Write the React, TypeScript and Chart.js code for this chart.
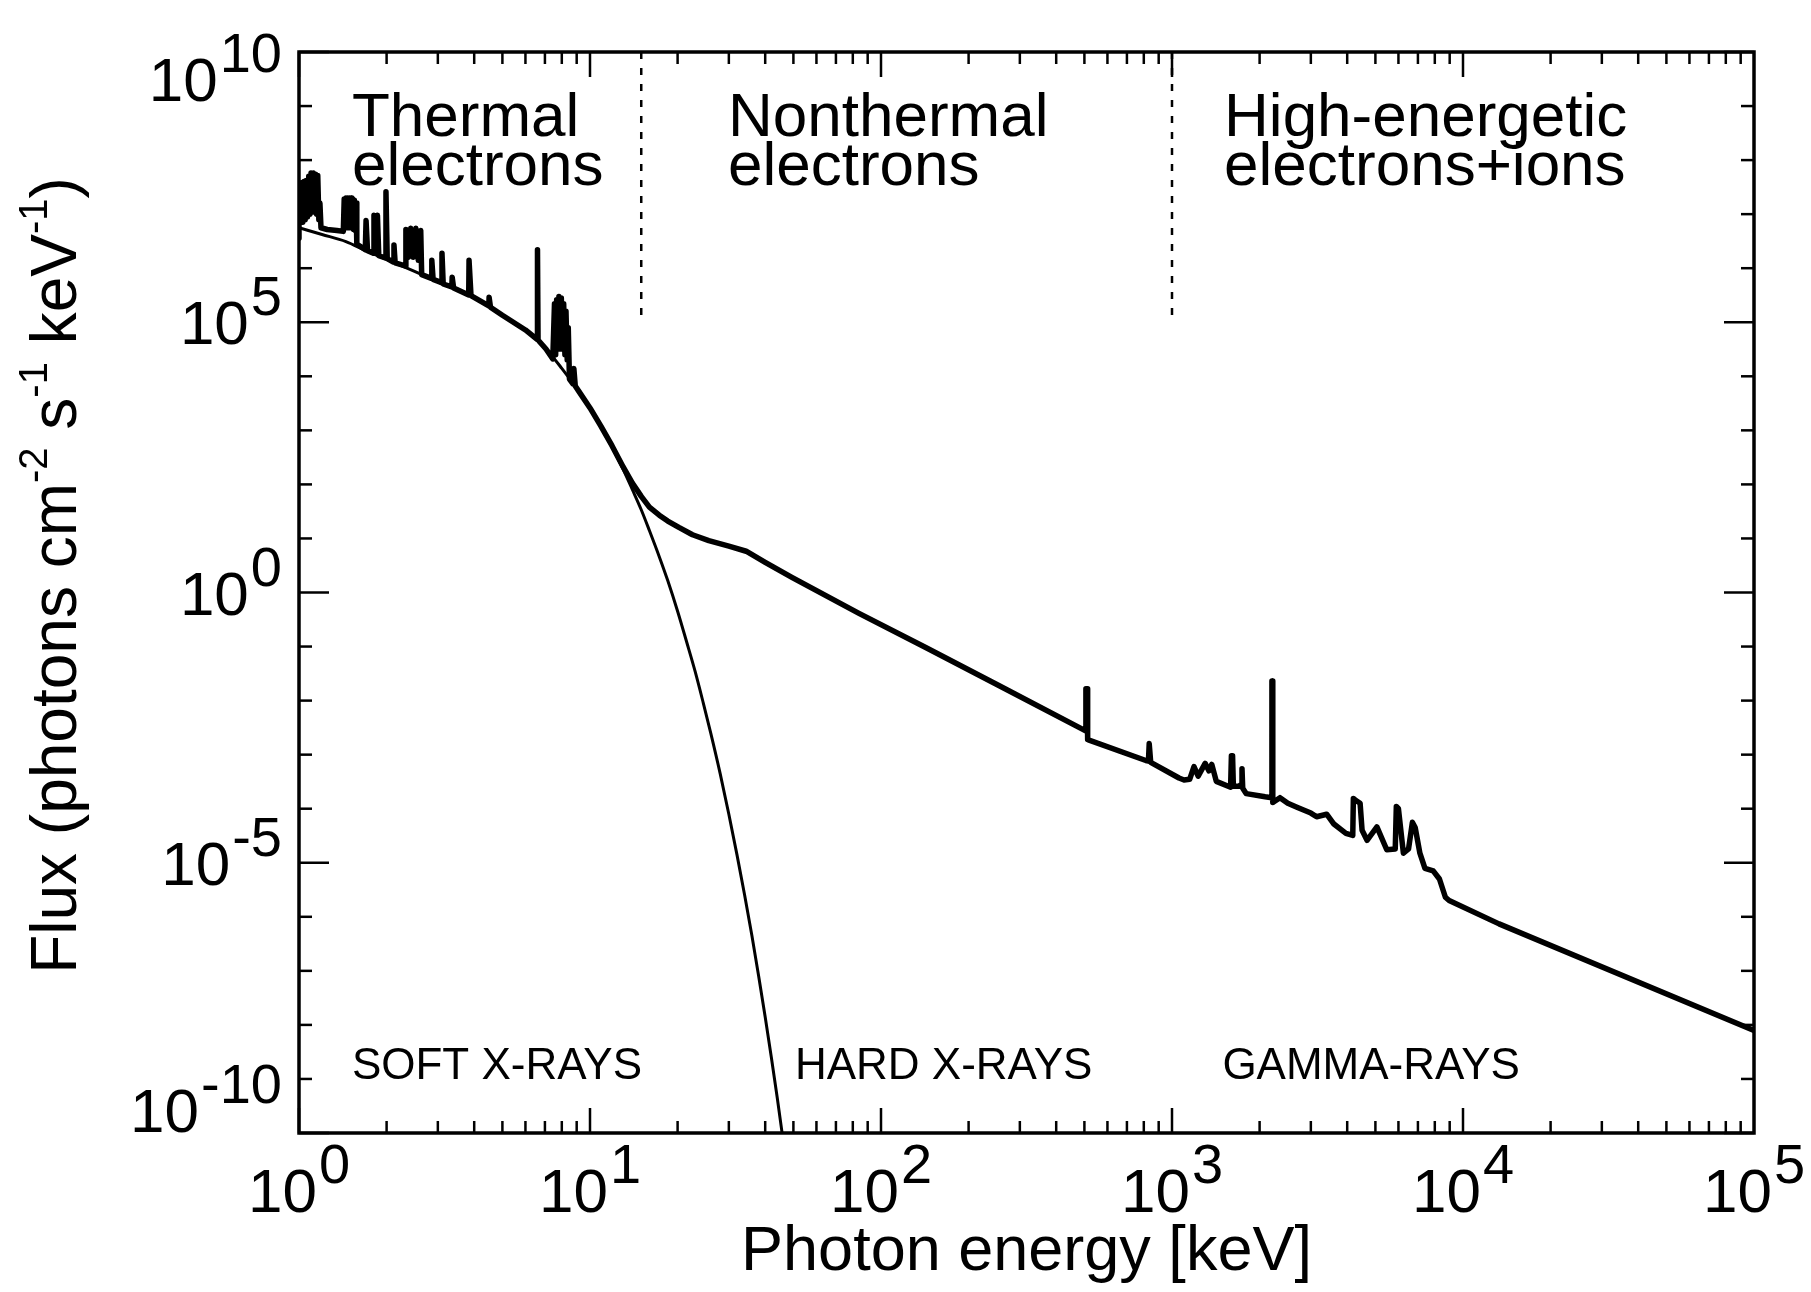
import React, { useEffect, useRef } from "react";
import { Chart, registerables } from "chart.js";

Chart.register(...registerables);

// ---- data ----
// Total observed spectrum (thick line), photon energy in keV
const totalEnergy = [
  1.0, 1.0, 1.01, 1.02, 1.03, 1.04, 1.05, 1.06, 1.07, 1.08, 1.09, 1.1, 1.11, 1.12, 1.13, 1.14, 1.15, 1.16, 1.17, 1.18, 1.19,
  1.25, 1.35, 1.42, 1.43, 1.44, 1.45, 1.46, 1.47, 1.48, 1.49, 1.5, 1.51, 1.52, 1.53, 1.54, 1.55, 1.56, 1.57, 1.58,
  1.69, 1.7, 1.72, 1.8, 1.81, 1.84, 1.86, 1.88, 1.98, 1.99, 2.01, 2.11, 2.12, 2.14, 2.32, 2.33, 2.38, 2.42, 2.47, 2.52, 2.57, 2.62, 2.64,
  2.85, 2.86, 2.89, 3.09, 3.1, 3.13, 3.35, 3.36, 3.4, 3.83, 3.84, 3.9, 4.49, 4.5, 4.55, 5.0, 6.0, 6.58, 6.6, 6.63, 7.06,
  7.45, 7.55, 7.62, 7.68, 7.75, 7.82, 7.9, 7.97, 8.05, 8.12, 8.2, 8.27, 8.35, 8.42, 8.5, 8.75, 8.8, 8.9, 9.17,
  10.0, 10.9, 11.9, 13.0, 14.0, 15.0, 16.0, 17.3, 18.5, 20.2, 22.5, 25.6, 30.0, 34.4, 40.0, 49.4, 84, 143, 254, 490,
  505, 506, 511, 513, 813, 830, 835, 845, 1057,
  1100, 1150, 1190, 1230, 1300, 1340, 1370, 1420, 1590, 1600, 1615, 1625, 1700, 1730, 1740, 1750, 1800, 2090, 2200, 2205,
  2215, 2220, 2350, 2500, 2700, 3000, 3140, 3400, 3600, 3960,
  4180, 4200, 4300, 4430, 4500, 4680, 5060, 5470, 5850, 5900, 6000, 6240, 6500, 6700, 6850, 7110, 7400, 7900, 8300, 8700,
  8960, 13300, 100000,
];
// photons cm^-2 s^-1 keV^-1
const totalFlux = [
  3.6e6, 3.5e7, 7.1e6, 3.8e7, 7.1e6, 4.0e7, 7.9e6, 4.2e7, 8.9e6, 5.0e7, 1.0e7, 5.8e7, 1.1e7, 5.8e7, 1.1e7, 5.5e7, 1.0e7, 5.2e7, 7.9e6, 1.6e7, 5.6e6,
  5.2e6, 5.0e6, 4.8e6, 1.9e7, 5.6e6, 2.0e7, 5.6e6, 2.0e7, 5.6e6, 2.0e7, 5.6e6, 2.0e7, 5.6e6, 1.9e7, 5.2e6, 1.8e7, 5.0e6, 1.6e7, 2.8e6,
  2.2e6, 7.6e6, 2.1e6, 1.9e6, 9.5e6, 3.2e6, 9.5e6, 1.7e6, 1.55e6, 2.6e7, 1.5e6, 1.3e6, 2.7e6, 1.26e6, 1.1e6, 5.2e6, 1.6e6, 5.5e6, 1.6e6, 5.5e6, 1.4e6, 5.0e6, 7.6e5,
  6.5e5, 1.4e6, 6.2e5, 5.4e5, 1.9e6, 5.1e5, 4.5e5, 6.8e5, 4.3e5, 3.2e5, 1.4e6, 3.1e5, 2.0e5, 2.9e5, 1.9e5, 1.35e5, 7.2e4, 4.8e4, 2.2e6, 4.7e4, 3.2e4,
  2.1e4, 2.2e5, 2.5e4, 2.6e5, 3.2e4, 3.0e5, 3.2e4, 2.8e5, 3.2e4, 2.2e5, 2.5e4, 1.6e5, 2.0e4, 7.9e4, 8.9e3, 7.2e3, 1.4e4, 6.6e3, 5.2e3,
  2.6e3, 1.2e3, 5.2e2, 2.1e2, 1.05e2, 60, 38, 27, 21, 16, 11.7, 9.1, 7.2, 5.8, 3.6, 1.9, 0.41, 0.095, 0.019, 3.0e-3,
  2.75e-3, 1.66e-2, 1.66e-2, 1.9e-3, 7.8e-4, 7.6e-4, 1.6e-3, 7.2e-4, 3.7e-4,
  3.4e-4, 3.5e-4, 6.0e-4, 4.0e-4, 6.9e-4, 5.0e-4, 6.6e-4, 3.2e-4, 2.5e-4, 9.5e-4, 9.5e-4, 2.6e-4, 2.6e-4, 2.8e-4, 5.5e-4, 2.4e-4, 1.9e-4, 1.66e-4, 1.6e-4, 2.3e-2,
  2.3e-2, 1.3e-4, 1.6e-4, 1.26e-4, 1.05e-4, 8.3e-5, 7.1e-5, 7.9e-5, 5.2e-5, 3.5e-5,
  3.2e-5, 1.55e-4, 1.4e-4, 1.26e-4, 4.0e-5, 2.6e-5, 4.6e-5, 1.74e-5, 1.8e-5, 1.1e-4, 1.0e-4, 1.5e-5, 1.8e-5, 5.6e-5, 4.5e-5, 1.5e-5, 7.9e-6, 7.1e-6, 5.0e-6, 2.3e-6,
  2.0e-6, 7.4e-7, 7.9e-9,
];
// Thermal continuum (thin line)
const thermalEnergy = [
  1.0, 1.2, 1.45, 1.7, 2.0, 2.45, 3.0, 4.16, 5.0, 6.0, 7.06, 8.0, 9.17, 10.0, 10.9, 11.9, 13, 14, 15, 16,
  17.3, 18.5, 20, 21.5, 23, 24.5, 26, 28, 30, 32, 34, 36, 38, 40, 42, 44, 46, 47,
];
const thermalFlux = [
  5.6e6, 4.2e6, 3.1e6, 2.1e6, 1.45e6, 9.1e5, 5.6e5, 2.6e5, 1.35e5, 7.2e4, 3.2e4, 1.4e4, 5.2e3, 2.6e3, 1.15e3, 4.9e2, 1.9e2, 79, 34, 14,
  4.6, 1.66, 0.45, 0.12, 0.034, 9.1e-3, 2.5e-3, 4.5e-4, 7.9e-5, 1.4e-5, 2.5e-6, 4.5e-7, 7.9e-8, 1.4e-8, 2.5e-9, 4.5e-10, 7.9e-11, 3.2e-11,
];
// Dotted region boundaries (keV) and their flux extent
const boundaryEnergies = [15, 1000];
const boundaryFluxTop = 1e10;
const boundaryFluxBottom = 1e5;

// Axes
const xTickValues = [1, 10, 100, 1000, 10000, 100000];
const xTickExponents = ["0", "1", "2", "3", "4", "5"];
const yTickValues = [1e10, 1e5, 1, 1e-5, 1e-10];
const yTickExponents = ["10", "5", "0", "-5", "-10"];
const xTitle = "Photon energy [keV]";
const yTitleParts: [string, boolean][] = [
  ["Flux (photons cm", false],
  ["-2", true],
  [" s", false],
  ["-1", true],
  [" keV", false],
  ["-1", true],
  [")", false],
];

// Annotations
const regionLabels = [
  ["Thermal", "electrons"],
  ["Nonthermal", "electrons"],
  ["High-energetic", "electrons+ions"],
];
const regionLabelEnergy = [1.52, 29.8, 1510];
const bandLabels = ["SOFT X-RAYS", "HARD X-RAYS", "GAMMA-RAYS"];
const bandLabelEnergy = [1.52, 50.6, 1490];

const FONT = '"Liberation Sans", Arial, Helvetica, sans-serif';
const f = (px: number) => `${px}px ${FONT}`;

function drawPower(
  ctx: CanvasRenderingContext2D,
  exp: string,
  x: number,
  y: number,
  align: "center" | "right",
  mainPx: number,
  supPx: number,
  raise: number
) {
  ctx.font = f(mainPx);
  const w1 = ctx.measureText("10").width;
  ctx.font = f(supPx);
  const w2 = ctx.measureText(exp).width;
  const gap = 2;
  const total = w1 + gap + w2;
  const left = align === "center" ? x - total / 2 : x - total;
  ctx.textAlign = "left";
  ctx.textBaseline = "alphabetic";
  ctx.font = f(mainPx);
  ctx.fillText("10", left, y);
  ctx.font = f(supPx);
  ctx.fillText(exp, left + w1 + gap, y - raise);
}

const decorPlugin = {
  id: "decor",
  afterDatasetsDraw(chart: any) {
    const { ctx, chartArea: a, scales } = chart;
    const xs = scales.x;
    const ys = scales.y;
    ctx.save();
    ctx.strokeStyle = "#000";
    ctx.fillStyle = "#000";
    ctx.lineCap = "butt";

    const seg = (x1: number, y1: number, x2: number, y2: number) => {
      ctx.beginPath();
      ctx.moveTo(x1, y1);
      ctx.lineTo(x2, y2);
      ctx.stroke();
    };

    // frame
    ctx.lineWidth = 3.5;
    ctx.strokeRect(a.left, a.top, a.right - a.left, a.bottom - a.top);

    // x ticks (bottom and top, inward)
    ctx.lineWidth = 2.5;
    for (let d = 0; d < 5; d++) {
      for (let m = 1; m < 10; m++) {
        const px = xs.getPixelForValue(m * Math.pow(10, d));
        const len = m === 1 ? 25 : 12;
        seg(px, a.bottom, px, a.bottom - len);
        seg(px, a.top, px, a.top + len);
      }
    }
    // y ticks (left and right, inward)
    for (let e = -10; e <= 10; e++) {
      const py = ys.getPixelForValue(Math.pow(10, e));
      const len = e % 5 === 0 ? 30 : 13;
      seg(a.left, py, a.left + len, py);
      seg(a.right, py, a.right - len, py);
    }

    // x tick labels
    xTickValues.forEach((v, i) => {
      const px = xs.getPixelForValue(v);
      drawPower(ctx, xTickExponents[i], px, a.bottom + 79, "center", 62, 56, 29);
    });
    // y tick labels
    yTickValues.forEach((v, i) => {
      const py = ys.getPixelForValue(v);
      const cy = Math.min(Math.max(py, a.top + 27), a.bottom - 23);
      drawPower(ctx, yTickExponents[i], a.left - 17, cy + 22, "right", 62, 56, 29);
    });

    // x title
    ctx.font = f(63);
    ctx.textAlign = "center";
    ctx.textBaseline = "alphabetic";
    ctx.fillText(xTitle, (a.left + a.right) / 2, a.bottom + 137);

    // y title (rotated)
    ctx.save();
    ctx.translate(76, (a.top + a.bottom) / 2 - 17);
    ctx.rotate(-Math.PI / 2);
    let total = 0;
    const widths = yTitleParts.map(([t, sup]) => {
      ctx.font = f(sup ? 40 : 64);
      const w = ctx.measureText(t).width;
      total += w;
      return w;
    });
    let cx = -total / 2;
    ctx.textAlign = "left";
    yTitleParts.forEach(([t, sup], i) => {
      ctx.font = f(sup ? 40 : 64);
      ctx.fillText(t, cx, sup ? -29 : 0);
      cx += widths[i];
    });
    ctx.restore();

    // region labels
    ctx.font = f(62);
    ctx.textAlign = "left";
    regionLabels.forEach((lines, i) => {
      const px = xs.getPixelForValue(regionLabelEnergy[i]);
      ctx.fillText(lines[0], px, a.top + 84);
      ctx.fillText(lines[1], px, a.top + 133);
    });
    // band labels
    ctx.font = f(44);
    bandLabels.forEach((t, i) => {
      const px = xs.getPixelForValue(bandLabelEnergy[i]);
      ctx.fillText(t, px, a.bottom - 54);
    });

    ctx.restore();
  },
};

export default function App() {
  const ref = useRef<HTMLCanvasElement>(null);
  useEffect(() => {
    document.body.style.margin = "0";
    const canvas = ref.current!;
    const total = totalEnergy.map((e, i) => ({ x: e, y: totalFlux[i] }));
    const thermal = thermalEnergy.map((e, i) => ({ x: e, y: thermalFlux[i] }));
    const boundaryDatasets = boundaryEnergies.map((e) => ({
      data: [
        { x: e, y: boundaryFluxTop },
        { x: e, y: boundaryFluxBottom },
      ],
      borderColor: "#000",
      borderWidth: 2.5,
      borderDash: [7, 9],
      pointRadius: 0,
      tension: 0,
    }));
    const chart = new Chart(canvas, {
      type: "line",
      data: {
        datasets: [
          {
            data: total,
            borderColor: "#000",
            borderWidth: 5.5,
            pointRadius: 0,
            tension: 0,
            borderJoinStyle: "round",
            borderCapStyle: "round",
          },
          {
            data: thermal,
            borderColor: "#000",
            borderWidth: 3,
            pointRadius: 0,
            cubicInterpolationMode: "monotone",
          },
          ...boundaryDatasets,
        ] as any,
      },
      options: {
        responsive: false,
        animation: false,
        devicePixelRatio: 1,
        layout: { padding: { left: 299, right: 57, top: 52, bottom: 159 } },
        plugins: { legend: { display: false }, tooltip: { enabled: false } },
        scales: {
          x: { type: "logarithmic", min: 1, max: 100000, display: false },
          y: { type: "logarithmic", min: 1e-10, max: 1e10, display: false },
        },
      },
      plugins: [decorPlugin],
    });
    return () => chart.destroy();
  }, []);
  return (
    <canvas
      ref={ref}
      width={1811}
      height={1292}
      style={{ display: "block", width: 1811, height: 1292, background: "#fff" }}
    />
  );
}
